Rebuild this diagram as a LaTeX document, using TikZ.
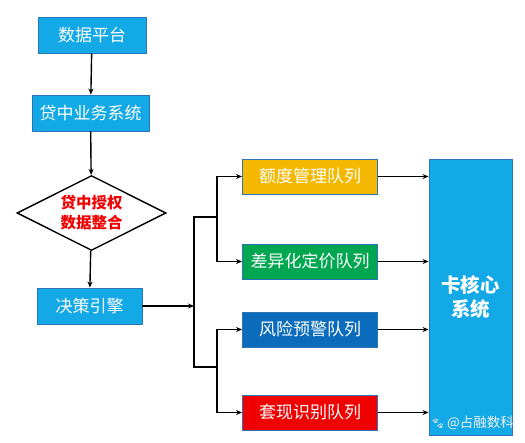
\documentclass[tikz,border=0pt]{standalone}
\usepackage{fontspec}
\setmainfont{Noto Sans CJK SC}
\newfontfamily\emojifont{Noto Emoji}
\usetikzlibrary{arrows.meta,shapes.geometric}
\definecolor{sky}{HTML}{12A9E6}
\definecolor{edgeblue}{HTML}{2E75B6}
\definecolor{gold}{HTML}{F5B800}
\definecolor{grn}{HTML}{00A650}
\definecolor{dblue}{HTML}{0A6CBA}
\definecolor{rd}{HTML}{F00000}
\tikzset{
  box/.style={draw=edgeblue, line width=0.9pt, fill=sky, text=white, inner sep=0pt,
    font=\fontsize{17}{17}\selectfont},
  qbox/.style={box, minimum width=135pt, minimum height=35pt},
  conn/.style={line width=1.4pt, -{Stealth[length=6pt,width=5pt]}},
  seg/.style={line width=1.4pt},
}
\begin{document}
\begin{tikzpicture}[x=1pt,y=-1pt]
\useasboundingbox (0,0) rectangle (525,442);
\fill[white] (0,0) rectangle (525,442);
% left column
\node[box, minimum width=108pt, minimum height=36pt] (dp) at (92,35) {数据平台};
\node[box, minimum width=117pt, minimum height=36pt] (dz) at (90.5,113) {贷中业务系统};
\node[diamond, draw=black, line width=1.4pt, fill=white, aspect=2, minimum width=149pt, minimum height=75pt, inner sep=0pt,
  text=rd, font=\bfseries\fontsize{15.5}{20}\selectfont, align=center] (dm) at (91.5,213) {贷中授权\\数据整合};
\node[box, minimum width=105pt, minimum height=36pt] (jc) at (89.5,306) {决策引擎};
% right queues
\node[qbox, fill=gold] (q1) at (310,176.5) {额度管理队列};
\node[qbox, fill=grn] (q2) at (310,261.5) {差异化定价队列};
\node[qbox, fill=dblue] (q3) at (310,329.5) {风险预警队列};
\node[qbox, fill=rd] (q4) at (310,412.5) {套现识别队列};
\node[box, minimum width=83pt, minimum height=276pt, font=\bfseries\fontsize{19.5}{24}\selectfont, align=center] (kh) at (470.5,297) {卡核心\\系统};
% watermark
\node[text=white!90!gray, font=\fontsize{13.5}{13.5}\selectfont, inner sep=0pt, anchor=east] (wm) at (514,423) {{\emojifont\fontsize{11}{11}\selectfont 🐾}\,@占融数科};
% connectors
\draw[conn] (dp) -- (dz);
\draw[conn] (dz) -- (dm);
\draw[conn] (dm) -- (jc);
\coordinate (hub) at (194,306);
\coordinate (ht) at (194,217);
\coordinate (hb) at (194,367);
\coordinate (bt) at (217,217);
\coordinate (bb) at (217,367);
\draw[conn] (jc.east) -- (hub);
\draw[seg] (bt) -- (ht) -- (hb) -- (bb);
\draw[conn] (bt) |- (q1.west);
\draw[conn] (bt) |- (q2.west);
\draw[conn] (bb) |- (q3.west);
\draw[conn] (bb) |- (q4.west);
\draw[conn] (q1.east) -- (q1.east -| kh.west);
\draw[conn] (q2.east) -- (q2.east -| kh.west);
\draw[conn] (q3.east) -- (q3.east -| kh.west);
\draw[conn] (q4.east) -- (q4.east -| kh.west);
\end{tikzpicture}
\end{document}
